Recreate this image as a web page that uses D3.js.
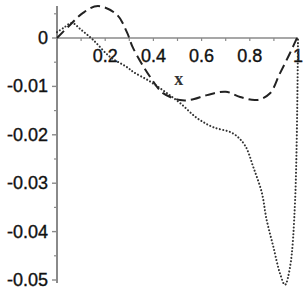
<!DOCTYPE html>
<html>
<head>
<meta charset="utf-8">
<script src="https://cdn.jsdelivr.net/npm/d3@7"></script>
<style>
html,body{margin:0;padding:0;background:#fff;}
svg{display:block;}
</style>
</head>
<body>
<svg id="chart" width="305" height="288"></svg>
<script>
// data
const dashedX = [0,0.054,0.108,0.17,0.249,0.29,0.316,0.386,0.44,0.51,0.552,0.622,0.7,0.76,0.83,0.884,0.925,0.967,1.0];
const dashedY = [0,0.0027,0.0052,0.0066,0.0048,0.0012,-0.0021,-0.008,-0.0114,-0.0128,-0.0128,-0.0118,-0.0111,-0.0122,-0.0128,-0.0114,-0.0073,-0.0031,0.0005];
const dottedX = [0,0.03,0.062,0.1,0.15,0.22,0.29,0.316,0.38,0.448,0.51,0.58,0.647,0.73,0.78,0.814,0.85,0.87,0.898,0.925,0.946,0.967,0.988,1.0];
const dottedY = [0.0012,0.0022,0.0031,0.0017,-0.0004,-0.0039,-0.006,-0.007,-0.0088,-0.0111,-0.0134,-0.0165,-0.0184,-0.0197,-0.0222,-0.0266,-0.032,-0.0376,-0.0432,-0.0486,-0.051,-0.0473,-0.0335,0];
const xTickValues = [0.2,0.4,0.6,0.8,1];
const xTickLabels = ["0.2","0.4","0.6","0.8","1"];
const xMinorTicks = [0.1,0.2,0.3,0.4,0.5,0.6,0.7,0.8,0.9];
const yTickValues = [0,-0.01,-0.02,-0.03,-0.04,-0.05];
const yTickLabels = ["0","-0.01","-0.02","-0.03","-0.04","-0.05"];
const yMinorTicks = [0.005,-0.005,-0.015,-0.025,-0.035,-0.045];
const axisLabel = "x";

const svg = d3.select("#chart");
const x = d3.scaleLinear().domain([0,1]).range([57,298]);
const y = d3.scaleLinear().domain([0,-0.05]).range([38,280]);
const yTop = y.invert(6), yBot = y.invert(283);

const axisColor = "#8a8a8a";
// y axis
svg.append("line").attr("x1",x(0)).attr("x2",x(0)).attr("y1",y(yTop)).attr("y2",y(yBot))
  .attr("stroke",axisColor).attr("stroke-width",2);
// x axis
svg.append("line").attr("x1",x(0)).attr("x2",x(1)).attr("y1",y(0)).attr("y2",y(0))
  .attr("stroke",axisColor).attr("stroke-width",1.6);

// y ticks
svg.selectAll(".ymaj").data(yTickValues).enter().append("line")
  .attr("x1",x(0)-5).attr("x2",x(0)).attr("y1",d=>y(d)).attr("y2",d=>y(d))
  .attr("stroke",axisColor).attr("stroke-width",1.4);
svg.selectAll(".ymin").data(yMinorTicks).enter().append("line")
  .attr("x1",x(0)-3).attr("x2",x(0)).attr("y1",d=>y(d)).attr("y2",d=>y(d))
  .attr("stroke",axisColor).attr("stroke-width",1.2);
// x ticks
svg.selectAll(".xmin").data(xMinorTicks).enter().append("line")
  .attr("x1",d=>x(d)).attr("x2",d=>x(d)).attr("y1",y(0)).attr("y2",y(0)+3)
  .attr("stroke",axisColor).attr("stroke-width",1.2);

// labels
svg.selectAll(".ylab").data(yTickValues).enter().append("text")
  .attr("x",x(0)-9).attr("y",d=>y(d)).attr("dy","0.33em")
  .attr("text-anchor","end").attr("font-family","Liberation Sans, Arial, sans-serif")
  .attr("font-size",18).attr("fill","#111").attr("stroke","#111").attr("stroke-width",0.35)
  .text((d,i)=>yTickLabels[i]);
svg.selectAll(".xlab").data(xTickValues).enter().append("text")
  .attr("x",d=>x(d)).attr("y",y(0)+24)
  .attr("text-anchor","middle").attr("font-family","Liberation Sans, Arial, sans-serif")
  .attr("font-size",18).attr("fill","#111").attr("stroke","#111").attr("stroke-width",0.35)
  .text((d,i)=>xTickLabels[i]);
svg.append("text").attr("x",x(0.505)).attr("y",85).attr("text-anchor","middle")
  .attr("font-family","Liberation Serif, Times New Roman, serif").attr("font-size",18)
  .attr("font-weight","bold").attr("fill","#333").text(axisLabel);

const line = d3.line().x(d=>x(d[0])).y(d=>y(d[1])).curve(d3.curveCatmullRom.alpha(0.5));
svg.append("path").attr("d",line(dottedX.map((v,i)=>[v,dottedY[i]])))
  .attr("fill","none").attr("stroke","#333").attr("stroke-width",2.1)
  .attr("stroke-linecap","round").attr("stroke-dasharray","0.01,3.4");
svg.append("path").attr("d",line(dashedX.map((v,i)=>[v,dashedY[i]])))
  .attr("fill","none").attr("stroke","#222").attr("stroke-width",2)
  .attr("stroke-dasharray","10,5");
</script>
</body>
</html>
